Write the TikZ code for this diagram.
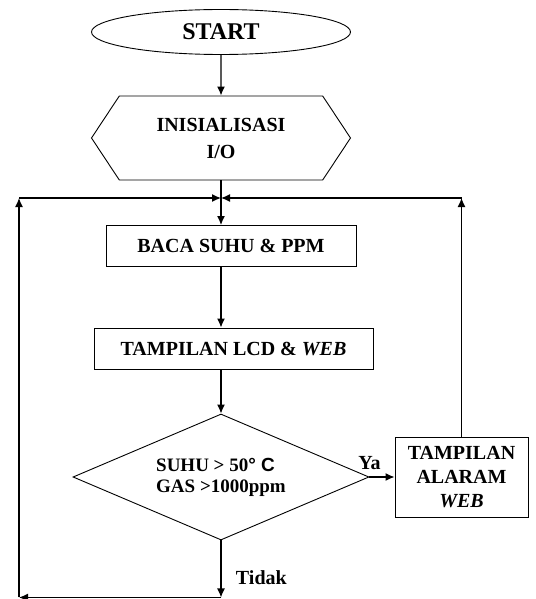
\documentclass[tikz,border=0pt]{standalone}
\usepackage{fontspec}
\setmainfont{Liberation Serif}
\setsansfont{Liberation Sans}
\usetikzlibrary{shapes.geometric,shapes.symbols,arrows.meta,positioning}

\begin{document}
\begin{tikzpicture}[>={Latex[length=9pt,width=8pt]},line width=1.3pt,on grid,
   font=\fontsize{20}{24}\selectfont\bfseries,
   term/.style={ellipse,draw,line width=0.9pt,minimum width=259pt,minimum height=45pt,inner sep=0pt},
   prep/.style={signal,signal to=east and west,signal pointer angle=113,draw,line width=0.9pt,
                minimum width=259pt,minimum height=84pt,inner sep=0pt,align=center},
   proc/.style={rectangle,draw,line width=0.9pt,minimum height=41pt,inner sep=0pt,align=center},
   cond/.style={diamond,draw,line width=0.9pt,aspect=2.35,minimum width=296pt,minimum height=126pt,
                inner sep=0pt,align=left,font=\fontsize{19}{21}\selectfont\bfseries}]
   \useasboundingbox (0,0) rectangle (535pt,-599pt);

   \node[term] (start) at (221pt,-32pt) {\fontsize{24}{28}\selectfont START};
   \node[prep] (init) [below=106pt of start] {INISIALISASI\\[3pt]I/O};
   \coordinate[below=60pt of init] (join);
   \node[proc,minimum width=250pt] (baca) [below right=108pt and 10pt of init] {BACA SUHU \& PPM};
   \node[proc,minimum width=279pt] (lcd) [below right=102.5pt and 2.5pt of baca] {TAMPILAN LCD \& \textit{WEB}};
   \node[cond] (cek) [below left=128.5pt and 12.5pt of lcd] {SUHU > 50{\sffamily° C}\\GAS >1000ppm};
   \node[proc,minimum width=133pt,minimum height=80pt] (alarm) [right=240.5pt of cek] {TAMPILAN\\ALARAM\\\textit{WEB}};

   \coordinate[below=57pt of cek.south] (out);
   \coordinate[left=202pt of out] (botleft);
   \coordinate[left=202pt of join] (topleft);
   \coordinate (topright) at (alarm.north |- join);

   \path[->]
   (start) edge (init)
   (init) edge[-] (join)
   (join) edge (join |- baca.north)
   (join |- baca.south) edge (join |- lcd.north)
   (join |- lcd.south) edge (cek)
   (cek) edge node[pos=0,above=3pt] {Ya} (alarm)
         edge node[pos=0.65,right=11pt] {Tidak} (out)
   (out) edge (botleft)
   (botleft) edge (topleft)
   (topleft) edge (join)
   (alarm) edge (topright)
   (topright) edge (join);
\end{tikzpicture}
\end{document}
